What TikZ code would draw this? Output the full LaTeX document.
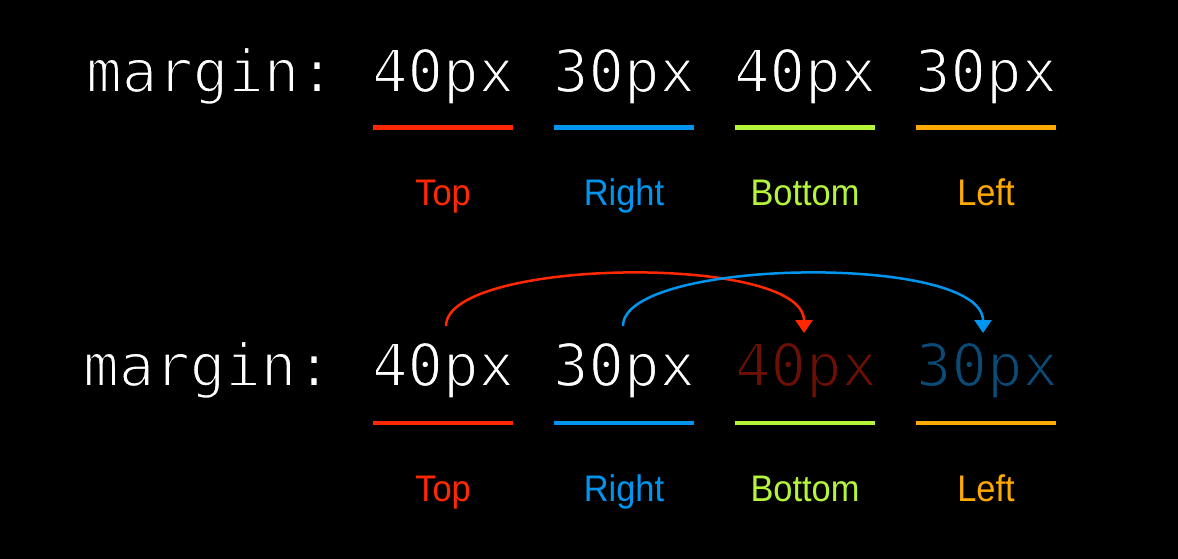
\documentclass[tikz,border=0pt]{standalone}
\usepackage{fontspec}
\setmainfont{Liberation Sans}
\setmonofont{DejaVu Sans Mono}
\usetikzlibrary{arrows.meta}
\definecolor{cred}{RGB}{255,40,0}
\definecolor{cblue}{RGB}{0,150,240}
\definecolor{cgreen}{RGB}{180,245,60}
\definecolor{corange}{RGB}{255,170,0}
\definecolor{dimred}{RGB}{110,15,5}
\definecolor{dimblue}{RGB}{10,75,120}
\newcommand\thintext[1]{\special{pdf:literal direct 2 Tr 1.8 w 0 0 0 RG}#1\special{pdf:literal direct 0 Tr}}
\tikzset{
  code/.style={font=\ttfamily\fontsize{59}{62}\selectfont, text=white, inner sep=0pt, anchor=base},
  lbl/.style={font=\fontsize{37}{40}\selectfont, inner sep=0pt, anchor=base, xscale=0.93},
  uline/.style={line width=4.5pt},
  jump/.style={line width=2.5pt, -{Triangle[width=17pt,length=13pt]}}
}
\begin{document}
\begin{tikzpicture}[x=1pt,y=-1pt]
\fill[black] (0,0) rectangle (1178,559);
\useasboundingbox (0,0) rectangle (1178,559);
% ---- top row ----
\node[code, anchor=base west] (m1) at (86,92) {\thintext{margin:}};
\node[code] (a1) at (443,92) {\thintext{40px}};
\node[code] (a2) at (624,92) {\thintext{30px}};
\node[code] (a3) at (805,92) {\thintext{40px}};
\node[code] (a4) at (986,92) {\thintext{30px}};
\draw[uline, cred]    (373,127.5) -- (513,127.5);
\draw[uline, cblue]   (554,127.5) -- (694,127.5);
\draw[uline, cgreen]  (735,127.5) -- (875,127.5);
\draw[uline, corange] (916,127.5) -- (1056,127.5);
\node[lbl, text=cred]    (t1) at (443,205) {Top};
\node[lbl, text=cblue]   (t2) at (624,205) {Right};
\node[lbl, text=cgreen]  (t3) at (805,205) {Bottom};
\node[lbl, text=corange] (t4) at (986,205) {Left};
% ---- bottom row ----
\node[code, anchor=base west] (m2) at (83,386) {\thintext{margin:}};
\node[code] (b1) at (443,386) {\thintext{40px}};
\node[code] (b2) at (624,386) {\thintext{30px}};
\node[code, text=dimred]  (b3) at (806,386) {\thintext{40px}};
\node[code, text=dimblue] (b4) at (987,386) {\thintext{30px}};
\draw[uline, cred]    (373,423) -- (513,423);
\draw[uline, cblue]   (554,423) -- (694,423);
\draw[uline, cgreen]  (735,423) -- (875,423);
\draw[uline, corange] (916,423) -- (1056,423);
\node[lbl, text=cred]    (u1) at (443,501) {Top};
\node[lbl, text=cblue]   (u2) at (624,501) {Right};
\node[lbl, text=cgreen]  (u3) at (805,501) {Bottom};
\node[lbl, text=corange] (u4) at (986,501) {Left};
% ---- arrows ----
\coordinate (rs) at ([xshift=3pt,yshift=16pt]b1.north);
\coordinate (re) at ([xshift=-2pt,yshift=9pt]b3.north);
\coordinate (bs) at ([xshift=-1pt,yshift=16pt]b2.north);
\coordinate (be) at ([xshift=-4pt,yshift=9pt]b4.north);
\draw[jump, cred]  (rs) .. controls +(0,-68) and +(0,-80) .. (re);
\draw[jump, cblue] (bs) .. controls +(0,-68) and +(0,-80) .. (be);
\end{tikzpicture}
\end{document}
